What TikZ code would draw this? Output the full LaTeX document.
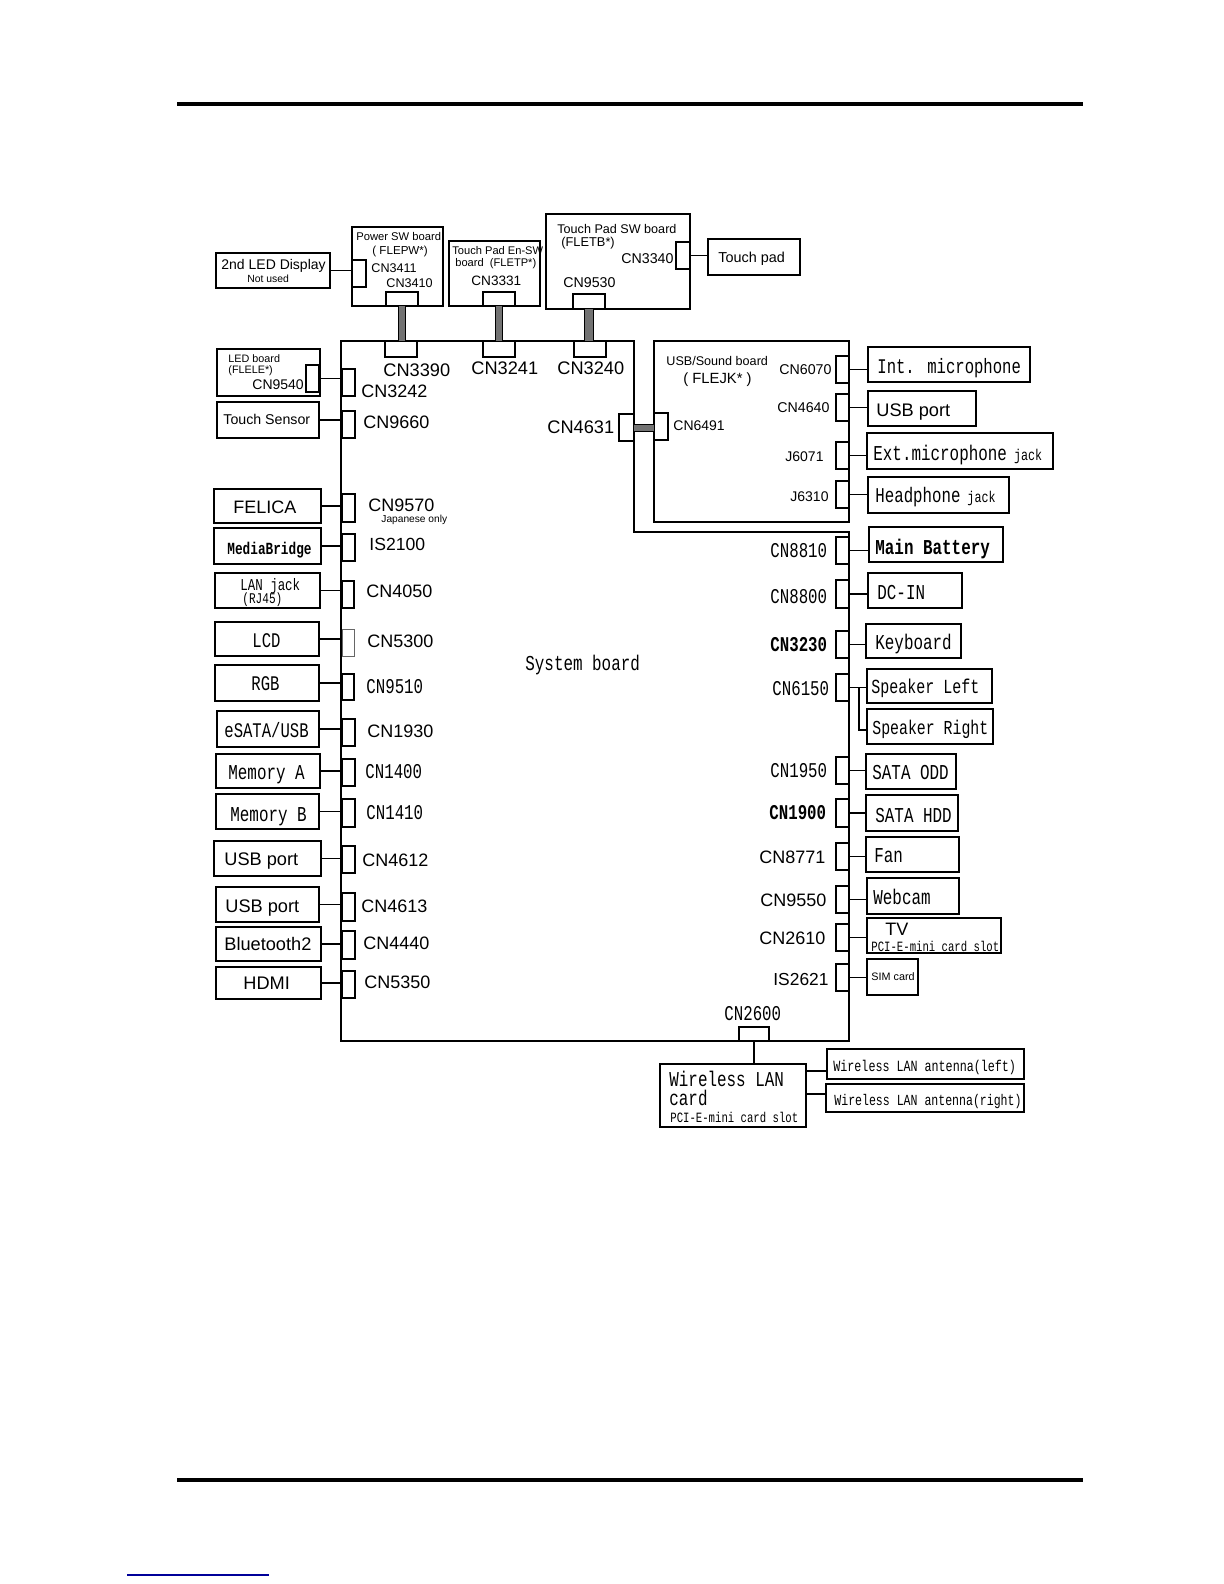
\documentclass[tikz,border=0pt]{standalone}
\usepackage{fontspec}
\setmainfont{Liberation Sans}
\newfontfamily\gothic[FakeStretch=0.75]{Liberation Mono}
\usepackage{tikz}
\usetikzlibrary{positioning,calc}
\tikzset{
	part/.style 2 args={draw, line width=0.6pt, anchor=north west, inner sep=0pt, outer sep=0pt, minimum width=#1*0.5pt, minimum height=#2*0.5pt},
	wire/.style={draw, line width=0.6pt},
	ribbon/.style={draw=black, line width=0.5pt, double=black!55, double distance=#1},
	lbl/.style={anchor=west, inner sep=0pt, text height=#1*0.72pt, text depth=0pt, font=\fontsize{#1}{#1}\selectfont},
	glbl/.style={anchor=west, inner sep=0pt, text height=#1*0.76pt, text depth=0pt, font=\gothic\fontsize{#1}{#1}\selectfont},
	gbold/.style={anchor=west, inner sep=0pt, text height=#1*0.76pt, text depth=0pt, font=\gothic\bfseries\fontsize{#1}{#1}\selectfont},
	rulebar/.style={draw, line width=2pt}
}
\begin{document}
\begin{tikzpicture}[x=0.5pt, y=-0.5pt]
	\useasboundingbox (0,0) rectangle (1224,1584);
	\coordinate (ruleTopA) at (177,104);
	\coordinate (ruleTopB) at (1083,104);
	\coordinate (ruleBotA) at (177,1480);
	\coordinate (ruleBotB) at (1083,1480);
	\coordinate (linkA) at (127,1575);
	\coordinate (linkB) at (269,1575);
	\draw[rulebar] (ruleTopA) -- (ruleTopB);
	\draw[rulebar] (ruleBotA) -- (ruleBotB);
	\draw[draw=blue!60!black, line width=0.6pt] (linkA) -- (linkB);

	\coordinate (sysA) at (341,341);
	\coordinate (sysB) at (634,341);
	\coordinate (sysC) at (634,532);
	\coordinate (sysD) at (849,532);
	\coordinate (sysE) at (849,1041);
	\coordinate (sysF) at (341,1041);
	\draw[wire] (sysA) -- (sysB) -- (sysC) -- (sysD) -- (sysE) -- (sysF) -- cycle;
	\node[glbl=10.6] (sysboard) at (525,662) {System board};

	\node[part={114}{35}] (led2) at (216,253) {};
	\node[part={91}{79}] (powersw) at (352,227) {};
	\node[part={91}{65}] (padensw) at (449,241) {};
	\node[part={144}{95}] (padsw) at (546,214) {};
	\node[part={92}{36}] (touchpad) at (708,239) {};
	\node[part={14}{27}] (cn3411) at (352,260) {};
	\node[part={32}{14}] (cn3410) at (386,292) {};
	\node[part={32}{14}] (cn3331) at (483,292) {};
	\node[part={32}{15}] (cn9530) at (573,294) {};
	\node[part={14}{27}] (cn3340) at (676,242) {};
	\node[part={32}{16}] (cn3390) at (385,341) {};
	\node[part={32}{16}] (cn3241) at (483,341) {};
	\node[part={32}{16}] (cn3240) at (574,341) {};
	\draw[wire] (led2.east) -- (led2.east -| cn3411.west);
	\draw[wire] (cn3340.east) -- (cn3340.east -| touchpad.west);
	\draw[ribbon=3.4pt] (cn3410.south) -- (cn3410.south |- cn3390.north);
	\draw[ribbon=3.4pt] (cn3331.south) -- (cn3331.south |- cn3241.north);
	\draw[ribbon=4.4pt] (cn9530.south) -- (cn9530.south |- cn3240.north);

	\node[lbl=7] (tled2) at (221,264) {2nd LED Display};
	\node[lbl=5.2] (tnotused) at (247,279) {Not used};
	\node[lbl=5.6] (tpower) at (356,236) {Power SW board};
	\node[lbl=5.8] (tflepw) at (372,250) {( FLEPW*)};
	\node[lbl=6.3] (t3411) at (371,268) {CN3411};
	\node[lbl=6.3] (t3410) at (386,283) {CN3410};
	\node[lbl=5.55] (tpaden) at (452,251) {Touch Pad En-SW};
	\node[lbl=5.55] (tfletp) at (455,263) {board\ \ (FLETP*)};
	\node[lbl=6.8] (t3331) at (471,281) {CN3331};
	\node[lbl=6.3] (tpadsw) at (557,229) {Touch Pad SW board};
	\node[lbl=6.4] (tfletb) at (561,242) {(FLETB*)};
	\node[lbl=7.1] (t3340) at (621,258) {CN3340};
	\node[lbl=7.1] (t9530) at (563,282) {CN9530};
	\node[lbl=7.2] (ttouchpad) at (718,257) {Touch pad};
	\node[lbl=9.1] (t3390) at (383,370) {CN3390};
	\node[lbl=9.1] (t3241) at (471,368) {CN3241};
	\node[lbl=9.1] (t3240) at (557,368) {CN3240};

	\node[part={195}{181}] (usbboard) at (654,341) {};
	\node[part={15}{27}] (cn4631) at (619,414) {};
	\node[part={14}{27}] (cn6491) at (654,413) {};
	\node[part={13}{27}] (cn6070) at (836,356) {};
	\node[part={13}{27}] (cn4640) at (836,394) {};
	\node[part={13}{27}] (j6071) at (836,442) {};
	\node[part={13}{27}] (j6310) at (836,481) {};
	\node[part={162}{35}] (intmic) at (868,347) {};
	\node[part={108}{35}] (usbport) at (868,391) {};
	\node[part={186}{36}] (extmic) at (867,433) {};
	\node[part={141}{36}] (headphone) at (868,477) {};
	\draw[ribbon=3pt] (cn4631.east) -- (cn4631.east -| cn6491.west);
	\draw[wire] (cn6070.east) -- (cn6070.east -| intmic.west);
	\draw[wire] (cn4640.east) -- (cn4640.east -| usbport.west);
	\draw[wire] (j6071.east) -- (j6071.east -| extmic.west);
	\draw[wire] (j6310.east) -- (j6310.east -| headphone.west);

	\node[lbl=9.1] (t4631) at (547,427) {CN4631};
	\node[lbl=6.3] (tusbboard) at (666,361) {USB/Sound board};
	\node[lbl=7.4] (tflejk) at (683,378) {( FLEJK* )};
	\node[lbl=7.1] (t6070) at (779,369) {CN6070};
	\node[lbl=7.1] (t4640) at (777,407) {CN4640};
	\node[lbl=7] (t6071) at (785,456) {J6071};
	\node[lbl=7] (t6310) at (790,496) {J6310};
	\node[lbl=7] (t6491) at (673,425) {CN6491};
	\node[glbl=10.4] (tintmic) at (877,366) {Int. microphone};
	\node[lbl=9.1] (tusbport) at (876,410) {USB port};
	\node[glbl=10.6] (textmic) at (873,452) {Ext.microphone\fontsize{7.8}{8}\selectfont\ jack};
	\node[glbl=10.5] (theadphone) at (875,495) {Headphone\fontsize{7.8}{8}\selectfont\ jack};

	\node[part={103}{47}] (ledboard) at (217,349) {};
	\node[part={13}{27}] (cn9540) at (306,365) {};
	\node[part={13}{27}] (cn3242) at (342,369) {};
	\node[part={102}{36}] (touchsensor) at (217,402) {};
	\node[part={13}{27}] (cn9660) at (342,411) {};
	\node[part={107}{34}] (felica) at (214,489) {};
	\node[part={13}{28}] (cn9570) at (342,494) {};
	\node[part={107}{36}] (mediabridge) at (214,528) {};
	\node[part={13}{27}] (is2100) at (342,534) {};
	\node[part={105}{35}] (lanjack) at (215,573) {};
	\node[part={12}{27}] (cn4050) at (342,581) {};
	\node[part={104}{34}] (lcd) at (215,622) {};
	\node[part={12}{27}, draw=black!60, line width=0.5pt] (cn5300) at (342,629) {};
	\node[part={104}{36}] (rgb) at (215,665) {};
	\node[part={12}{26}] (cn9510) at (342,674) {};
	\node[part={102}{36}] (esata) at (217,711) {};
	\node[part={13}{27}] (cn1930) at (342,719) {};
	\node[part={104}{34}] (memorya) at (216,754) {};
	\node[part={13}{27}] (cn1400) at (342,759) {};
	\node[part={103}{35}] (memoryb) at (216,794) {};
	\node[part={13}{28}] (cn1410) at (342,799) {};
	\node[part={107}{35}] (usbleft) at (214,841) {};
	\node[part={13}{27}] (cn4612) at (342,846) {};
	\node[part={103}{35}] (usbleftb) at (216,887) {};
	\node[part={13}{28}] (cn4613) at (342,893) {};
	\node[part={105}{34}] (bluetooth) at (216,927) {};
	\node[part={13}{28}] (cn4440) at (342,931) {};
	\node[part={105}{32}] (hdmi) at (216,967) {};
	\node[part={13}{27}] (cn5350) at (342,971) {};
	\draw[wire] (cn9540.east) -- (cn9540.east -| cn3242.west);
	\draw[wire] (touchsensor.east) -- (touchsensor.east -| cn9660.west);
	\draw[wire] (felica.east) -- (felica.east -| cn9570.west);
	\draw[wire] (mediabridge.east) -- (mediabridge.east -| is2100.west);
	\draw[wire] (lanjack.east) -- (lanjack.east -| cn4050.west);
	\draw[wire] (lcd.east) -- (lcd.east -| cn5300.west);
	\draw[wire] (rgb.east) -- (rgb.east -| cn9510.west);
	\draw[wire] (esata.east) -- (esata.east -| cn1930.west);
	\draw[wire] (memorya.east) -- (memorya.east -| cn1400.west);
	\draw[wire] (memoryb.east) -- (memoryb.east -| cn1410.west);
	\draw[wire] (usbleft.east) -- (usbleft.east -| cn4612.west);
	\draw[wire] (usbleftb.east) -- (usbleftb.east -| cn4613.west);
	\draw[wire] (bluetooth.east) -- (bluetooth.east -| cn4440.west);
	\draw[wire] (hdmi.east) -- (hdmi.east -| cn5350.west);

	\node[lbl=5.4] (tledboard) at (228,359) {LED board};
	\node[lbl=5.4] (tflele) at (228,370) {(FLELE*)};
	\node[lbl=7] (t9540) at (252,384) {CN9540};
	\node[lbl=9] (t3242) at (361,391) {CN3242};
	\node[lbl=7.1] (ttouchsensor) at (223,419) {Touch Sensor};
	\node[lbl=9] (t9660) at (363,422) {CN9660};
	\node[lbl=9] (tfelica) at (233,507) {FELICA};
	\node[lbl=9] (t9570) at (368,505) {CN9570};
	\node[lbl=5.1] (tjapanese) at (381,519) {Japanese only};
	\node[gbold=8.5] (tmedia) at (227,548) {MediaBridge};
	\node[lbl=8.8] (t2100) at (369,544) {IS2100};
	\node[glbl=8.3] (tlanjack) at (240,584) {LAN jack};
	\node[glbl=7.4] (trj45) at (242,598) {(RJ45)};
	\node[lbl=9] (t4050) at (366,591) {CN4050};
	\node[glbl=10.4] (tlcd) at (252,640) {LCD};
	\node[lbl=9] (t5300) at (367,641) {CN5300};
	\node[glbl=10.4] (trgb) at (251,683) {RGB};
	\node[glbl=10.5] (t9510) at (366,686) {CN9510};
	\node[glbl=10.4] (tesata) at (224,730) {eSATA/USB};
	\node[lbl=9] (t1930) at (367,731) {CN1930};
	\node[glbl=10.6] (tmema) at (228,771) {Memory A};
	\node[glbl=10.5] (t1400) at (365,771) {CN1400};
	\node[glbl=10.6] (tmemb) at (230,813) {Memory B};
	\node[glbl=10.5] (t1410) at (366,812) {CN1410};
	\node[lbl=9.1] (tusbleft) at (224,859) {USB port};
	\node[lbl=9] (t4612) at (362,860) {CN4612};
	\node[lbl=9.1] (tusbleftb) at (225,906) {USB port};
	\node[lbl=9] (t4613) at (361,906) {CN4613};
	\node[lbl=9.1] (tbluetooth) at (224,944) {Bluetooth2};
	\node[lbl=9] (t4440) at (363,943) {CN4440};
	\node[lbl=9.1] (thdmi) at (243,983) {HDMI};
	\node[lbl=9] (t5350) at (364,982) {CN5350};

	\node[part={134}{35}] (battery) at (869,527) {};
	\node[part={13}{27}] (cn8810) at (836,537) {};
	\node[part={94}{35}] (dcin) at (868,573) {};
	\node[part={13}{28}] (cn8800) at (836,580) {};
	\node[part={95}{34}] (keyboard) at (866,624) {};
	\node[part={13}{27}] (cn3230) at (836,631) {};
	\node[part={125}{34}] (spkleft) at (867,669) {};
	\node[part={126}{35}] (spkright) at (867,709) {};
	\node[part={13}{27}] (cn6150) at (836,674) {};
	\node[part={90}{35}] (sataodd) at (866,754) {};
	\node[part={13}{27}] (cn1950) at (836,757) {};
	\node[part={92}{36}] (satahdd) at (866,795) {};
	\node[part={13}{28}] (cn1900) at (836,799) {};
	\node[part={93}{35}] (fan) at (866,837) {};
	\node[part={13}{27}] (cn8771) at (836,843) {};
	\node[part={92}{36}] (webcam) at (867,878) {};
	\node[part={13}{27}] (cn9550) at (836,886) {};
	\node[part={134}{35}] (tvcard) at (867,918) {};
	\node[part={13}{27}] (cn2610) at (836,924) {};
	\node[part={51}{36}] (simcard) at (867,959) {};
	\node[part={13}{27}] (is2621) at (836,964) {};
	\node[part={30}{14}] (cn2600) at (739,1027) {};
	\node[part={146}{63}] (wlan) at (660,1064) {};
	\node[part={197}{30}] (antleft) at (827,1049) {};
	\node[part={198}{28}] (antright) at (826,1084) {};
	\coordinate (spkfork) at (859,730);
	\draw[wire] (cn8810.east) -- (cn8810.east -| battery.west);
	\draw[wire] (cn8800.east) -- (cn8800.east -| dcin.west);
	\draw[wire] (cn3230.east) -- (cn3230.east -| keyboard.west);
	\draw[wire] (cn6150.east) -- (cn6150.east -| spkleft.west);
	\draw[wire] (cn6150.east -| spkfork) -- (spkfork) -- (spkfork -| spkright.west);
	\draw[wire] (cn1950.east) -- (cn1950.east -| sataodd.west);
	\draw[wire] (cn1900.east) -- (cn1900.east -| satahdd.west);
	\draw[wire] (cn8771.east) -- (cn8771.east -| fan.west);
	\draw[wire] (cn9550.east) -- (cn9550.east -| webcam.west);
	\draw[wire] (cn2610.east) -- (cn2610.east -| tvcard.west);
	\draw[wire] (is2621.east) -- (is2621.east -| simcard.west);
	\draw[wire] (cn2600.south) -- (cn2600.south |- wlan.north);
	\draw[wire] ([yshift=-3.5pt]antleft.west -| wlan.east) -- ([yshift=-3.5pt]antleft.west);
	\draw[wire] ([yshift=2pt]antright.west -| wlan.east) -- ([yshift=2pt]antright.west);

	\node[gbold=10.6] (tbattery) at (875,546) {Main Battery};
	\node[glbl=10.5] (t8810) at (770,550) {CN8810};
	\node[glbl=10.6] (tdcin) at (877,591) {DC-IN};
	\node[glbl=10.5] (t8800) at (770,596) {CN8800};
	\node[glbl=10.6] (tkeyboard) at (875,641) {Keyboard};
	\node[gbold=10.5] (t3230) at (770,644) {CN3230};
	\node[glbl=10] (tspkleft) at (871,686) {Speaker Left};
	\node[glbl=9.9] (tspkright) at (872,727) {Speaker Right};
	\node[glbl=10.5] (t6150) at (772,688) {CN6150};
	\node[glbl=10.6] (tsataodd) at (872,771) {SATA ODD};
	\node[glbl=10.5] (t1950) at (770,770) {CN1950};
	\node[glbl=10.6] (tsatahdd) at (875,814) {SATA HDD};
	\node[gbold=10.5] (t1900) at (769,812) {CN1900};
	\node[glbl=10.6] (tfan) at (874,854) {Fan};
	\node[lbl=9] (t8771) at (759,857) {CN8771};
	\node[glbl=10.6] (twebcam) at (873,896) {Webcam};
	\node[lbl=9] (t9550) at (760,900) {CN9550};
	\node[lbl=9] (ttv) at (885,929) {TV};
	\node[glbl=7.1] (tpcitv) at (871,946) {PCI-E-mini card slot};
	\node[lbl=9] (t2610) at (759,938) {CN2610};
	\node[lbl=5.4] (tsim) at (871,977) {SIM card};
	\node[lbl=8.7] (t2621) at (773,979) {IS2621};
	\node[glbl=10.5] (t2600) at (724,1013) {CN2600};
	\node[glbl=10.6] (twlan) at (669,1078) {Wireless LAN};
	\node[glbl=10.6] (tcard) at (669,1097) {card};
	\node[glbl=7.1] (tpciwlan) at (670,1117) {PCI-E-mini card slot};
	\node[glbl=7.8] (tantleft) at (833,1066) {Wireless LAN antenna(left)};
	\node[glbl=7.7] (tantright) at (834,1100) {Wireless LAN antenna(right)};
\end{tikzpicture}
\end{document}
